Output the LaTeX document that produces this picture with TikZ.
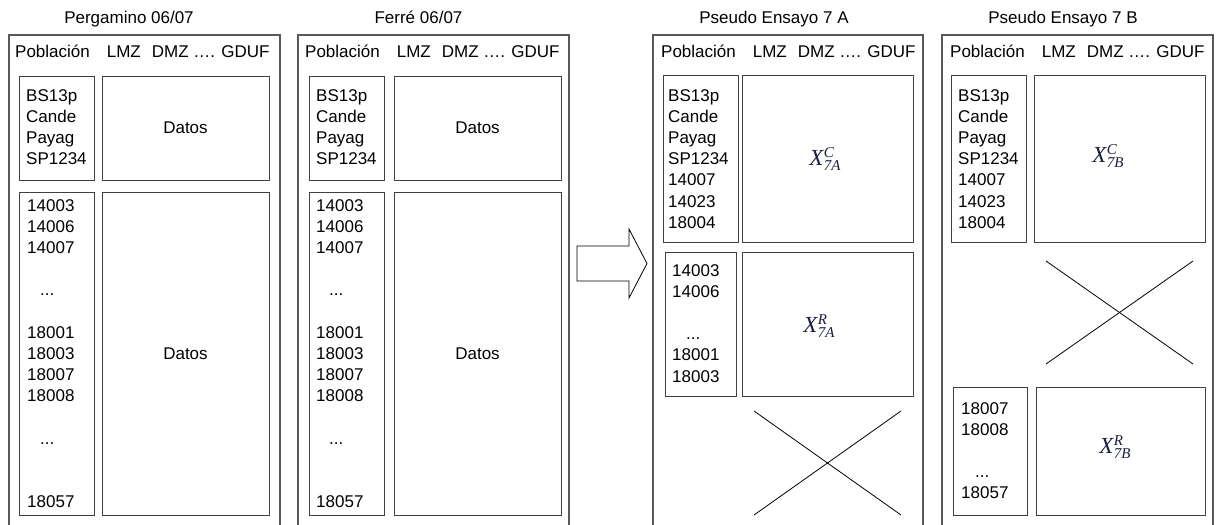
\RequirePackage{fix-cm}
\documentclass[tikz,border=0pt]{standalone}
\usepackage{fontspec}
\setmainfont{Liberation Sans}
\newfontfamily\xserif{Liberation Serif}
\usetikzlibrary{fit}
\definecolor{mathc}{RGB}{25,30,60}
\newcommand{\xlab}[2]{{\fontsize{23}{23}\selectfont\xserif\itshape X}\kern0.5pt\rlap{\raisebox{8.5pt}{\fontsize{15}{15}\selectfont\xserif\itshape #1}}\raisebox{-5pt}{\fontsize{15}{15}\selectfont\xserif\itshape #2}}
\begin{document}
\begin{tikzpicture}[x=1pt,y=-1pt,
  panel/.style={draw=black!65, line width=1.1pt},
  inbox/.style={draw=black!75, line width=1pt, inner sep=0pt},
  coltext/.style={font=\fontsize{17}{21.2}\selectfont, align=left, anchor=north west, inner sep=0pt},
  hdr/.style={font=\fontsize{17}{20}\selectfont, anchor=base west, inner sep=0pt},
  ttl/.style={font=\fontsize{17}{20}\selectfont, anchor=base, inner sep=0pt},
  dat/.style={font=\fontsize{17}{20}\selectfont, inner sep=0pt},
  mth/.style={text=mathc, inner sep=0pt},
  crossl/.style={draw=black, line width=0.8pt},
  blockarrow/.style={draw=black, line width=0.8pt, line join=miter}]
\useasboundingbox (0,0) rectangle (1219,525);

% ---------- Panel 1: Pergamino ----------
\draw[panel] (9,530) -- (9,35) -- (280,35) -- (280,530);
\node[ttl] (t1) at (129,23) {Pergamino 06/07};
\node[hdr] (h1) at (15,57) {Población\hspace{17pt}LMZ\hspace{11pt}DMZ …. GDUF};
\node[inbox, fit={(19,76) (94,180)}] (p1a) {};
\node[inbox, fit={(102,76) (269,180)}] (p1b) {};
\node[inbox, fit={(19,192) (94,515)}] (p1c) {};
\node[inbox, fit={(102,192) (269,515)}] (p1d) {};
\node[coltext] (p1at) at (26,89) {BS13p\\Cande\\Payag\\SP1234};
\node[dat] (p1bt) at (p1b.center) {Datos};
\node[coltext] (p1ct) at (27,199) {14003\\14006\\14007\\[21.2pt]\hspace*{13pt}...\\[21.2pt]18001\\18003\\18007\\18008\\[21.2pt]\hspace*{13pt}...\\[42.4pt]18057};
\node[dat] (p1dt) at (p1d.center) {Datos};

% ---------- Panel 2: Ferre ----------
\draw[panel] (298,530) -- (298,35) -- (569,35) -- (569,530);
\node[ttl] (t2) at (418.5,23) {Ferré 06/07};
\node[hdr] (h2) at (305,57) {Población\hspace{17pt}LMZ\hspace{11pt}DMZ …. GDUF};
\node[inbox, fit={(309,76) (384,180)}] (p2a) {};
\node[inbox, fit={(394,76) (561,180)}] (p2b) {};
\node[inbox, fit={(309,192) (384,515)}] (p2c) {};
\node[inbox, fit={(394,192) (561,515)}] (p2d) {};
\node[coltext] (p2at) at (316,89) {BS13p\\Cande\\Payag\\SP1234};
\node[dat] (p2bt) at (p2b.center) {Datos};
\node[coltext] (p2ct) at (316,199) {14003\\14006\\14007\\[21.2pt]\hspace*{13pt}...\\[21.2pt]18001\\18003\\18007\\18008\\[21.2pt]\hspace*{13pt}...\\[42.4pt]18057};
\node[dat] (p2dt) at (p2d.center) {Datos};

% ---------- Block arrow ----------
\draw[blockarrow] (577,246) -- (629,246) -- (629,229) -- (647,263.5) -- (629,298) -- (629,281) -- (577,281) -- cycle;

% ---------- Panel 3: Pseudo Ensayo 7 A ----------
\draw[panel] (653,530) -- (653,35) -- (923,35) -- (923,530);
\node[ttl] (t3) at (774,23) {Pseudo Ensayo 7 A};
\node[hdr] (h3) at (661,57) {Población\hspace{17pt}LMZ\hspace{11pt}DMZ …. GDUF};
\node[inbox, fit={(663,75) (738,242)}] (p3a) {};
\node[inbox, fit={(742,75) (913,242)}] (p3b) {};
\node[inbox, fit={(665,252) (736,396)}] (p3c) {};
\node[inbox, fit={(742,252) (913,396)}] (p3d) {};
\node[coltext] (p3at) at (668,89) {BS13p\\Cande\\Payag\\SP1234\\14007\\14023\\18004};
\node[mth] (p3bt) at (825,159) {\xlab{C}{7A}};
\node[coltext] (p3ct) at (672,264) {14003\\14006\\[21.2pt]\hspace*{14pt}...\\18001\\18003};
\node[mth] (p3dt) at (819,326) {\xlab{R}{7A}};
\coordinate (c3a) at (754,411);
\coordinate (c3b) at (901,515);
\coordinate (c3c) at (754,515);
\coordinate (c3d) at (901,411);
\draw[crossl] (c3a) -- (c3b);
\draw[crossl] (c3c) -- (c3d);

% ---------- Panel 4: Pseudo Ensayo 7 B ----------
\draw[panel] (942,530) -- (942,35) -- (1213,35) -- (1213,530);
\node[ttl] (t4) at (1063,23) {Pseudo Ensayo 7 B};
\node[hdr] (h4) at (950,57) {Población\hspace{17pt}LMZ\hspace{11pt}DMZ …. GDUF};
\node[inbox, fit={(951,75) (1026,242)}] (p4a) {};
\node[inbox, fit={(1034,75) (1205,242)}] (p4b) {};
\node[inbox, fit={(953,387) (1027,515)}] (p4c) {};
\node[inbox, fit={(1036,387) (1205,515)}] (p4d) {};
\node[coltext] (p4at) at (958,89) {BS13p\\Cande\\Payag\\SP1234\\14007\\14023\\18004};
\node[mth] (p4bt) at (1108,156) {\xlab{C}{7B}};
\node[coltext] (p4ct) at (961,402) {18007\\18008\\[21.2pt]\hspace*{14pt}...\\18057};
\node[mth] (p4dt) at (1115,447) {\xlab{R}{7B}};
\coordinate (c4a) at (1046,261);
\coordinate (c4b) at (1193,364);
\coordinate (c4c) at (1046,364);
\coordinate (c4d) at (1193,261);
\draw[crossl] (c4a) -- (c4b);
\draw[crossl] (c4c) -- (c4d);
\end{tikzpicture}
\end{document}
